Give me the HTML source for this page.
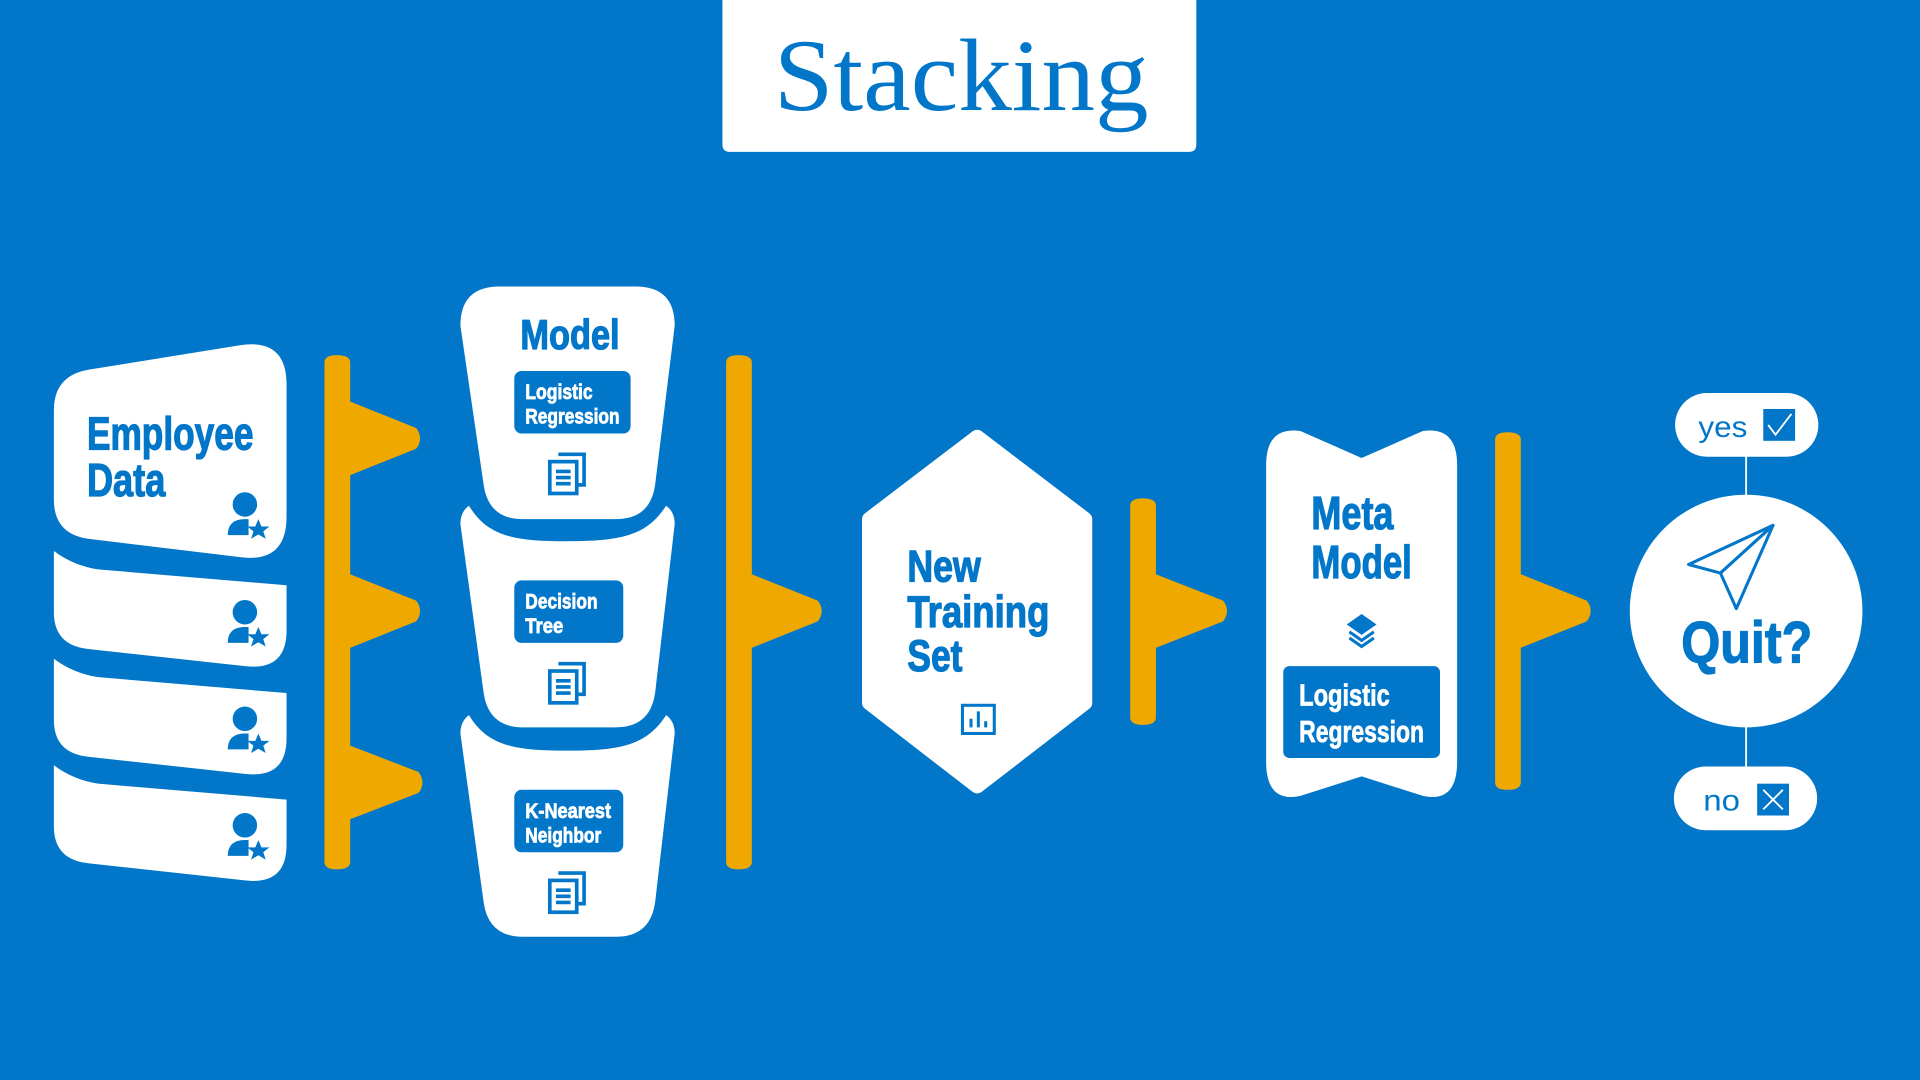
<!DOCTYPE html>
<html><head><meta charset="utf-8"><style>
html,body{margin:0;padding:0;background:#0277C9;width:1920px;height:1080px;overflow:hidden}
svg{display:block}
.c{font-family:"Liberation Sans Narrow","Liberation Sans",sans-serif;font-weight:bold}
.cb{stroke:#0277C9;stroke-width:1}
.cw{stroke:#fff;stroke-width:0.6}
</style></head><body>
<svg width="1920" height="1080" viewBox="0 0 1568 882" xmlns="http://www.w3.org/2000/svg">
<rect width="1568" height="882" fill="#0277C9"/>
<path d="M590,0 H977 V118 Q977,124 971,124 H596 Q590,124 590,118 Z" fill="#fff"/>
<text x="632" y="90" font-family="Liberation Serif,serif" font-size="84" fill="#0277C9" textLength="306" lengthAdjust="spacingAndGlyphs">Stacking</text>

<g fill="#fff">
<path d="M44,335 Q44,307 72,302 L196,282 Q234,276 234,314 V422 Q234,460 196,455 L72,440 Q44,436 44,408 Z"/>
<path d="M44,450 Q60,462 80,465 L234,478 V515 Q234,548 200,544 L72,530 Q44,527 44,500 Z"/>
<path d="M44,538 Q60,550 80,553 L234,566 V603 Q234,636 200,632 L72,618 Q44,615 44,588 Z"/>
<path d="M44,625 Q60,637 80,640 L234,653 V690 Q234,723 200,719 L72,705 Q44,702 44,675 Z"/>
</g>
<text class="c cb" x="71" y="367" font-size="38" fill="#0277C9" textLength="136" lengthAdjust="spacingAndGlyphs">Employee</text>
<text class="c cb" x="71" y="405" font-size="38" fill="#0277C9" textLength="64" lengthAdjust="spacingAndGlyphs">Data</text>
<g fill="#0277C9">
<g id="pi"><circle cx="200" cy="412" r="10"/><path d="M186,437 Q186,424 200,424 H203 V437 Z"/><polygon points="211,424 213.5,430 220,430 215,434 217,440 211,436.5 205,440 207,434 202,430 208.5,430"/></g>
<use href="#pi" y="88"/><use href="#pi" y="175"/><use href="#pi" y="262"/>
</g>

<g fill="#EFA800" stroke="#EFA800" stroke-linejoin="round" stroke-width="6">
<path d="M268,296 Q268,293 275,293 Q283,293 283,296 V330 L338,352 Q342,358 338,364 L283,386 V471 L338,493 Q342,499 338,505 L283,527 V611 L340,633 Q344,639 340,645 L283,667 V704 Q283,707 275,707 Q268,707 268,704 Z"/>
<path d="M596,296 Q596,293 603,293 Q611,293 611,296 V471 L666,493 Q670,499 666,505 L611,527 V704 Q611,707 603,707 Q596,707 596,704 Z"/>
<path d="M926,413 Q926,410 933,410 Q941,410 941,413 V471 L997,493 Q1001,499 997,505 L941,527 V586 Q941,589 933,589 Q926,589 926,586 Z"/>
<path d="M1224,359 Q1224,356 1231,356 Q1239,356 1239,359 V471 L1294,493 Q1298,499 1294,505 L1239,527 V639 Q1239,642 1231,642 Q1224,642 1224,639 Z"/>
</g>

<g fill="#fff">
<path d="M376,266 Q376,234 408,234 L519,234 Q551,234 551,266 L535,396 Q531,424 503,424 L427,424 Q399,424 395,396 Z"/>
<path d="M376,428 Q376,418 383,413 C398,438 420,442 463,442 C506,442 528,438 544,413 Q551,418 551,428 L535,566 Q531,594 503,594 L427,594 Q399,594 395,566 Z"/>
<path d="M376,599 Q376,589 383,584 C398,609 420,613 463,613 C506,613 528,609 544,584 Q551,589 551,599 L535,737 Q531,765 503,765 L427,765 Q399,765 395,737 Z"/>
</g>
<text class="c cb" x="425" y="285" font-size="34" fill="#0277C9" textLength="81" lengthAdjust="spacingAndGlyphs">Model</text>
<g fill="#0277C9">
<rect x="420" y="303" width="95" height="51" rx="6"/>
<rect x="420" y="474" width="89" height="51" rx="6"/>
<rect x="420" y="645" width="89" height="51" rx="6"/>
</g>
<g class="c cw" font-size="17" fill="#fff">
<text x="429" y="326" textLength="55" lengthAdjust="spacingAndGlyphs">Logistic</text>
<text x="429" y="346" textLength="77" lengthAdjust="spacingAndGlyphs">Regression</text>
<text x="429" y="497" textLength="59" lengthAdjust="spacingAndGlyphs">Decision</text>
<text x="429" y="517" textLength="31" lengthAdjust="spacingAndGlyphs">Tree</text>
<text x="429" y="668" textLength="70" lengthAdjust="spacingAndGlyphs">K-Nearest</text>
<text x="429" y="688" textLength="62" lengthAdjust="spacingAndGlyphs">Neighbor</text>
</g>
<g fill="none" stroke="#0277C9" stroke-width="3">
<g id="doc"><path d="M456,371 H477 V396 H472"/><rect x="449" y="377" width="22" height="26"/><path d="M454,385 H466 M454,390 H466 M454,395 H466"/></g>
<use href="#doc" y="171"/><use href="#doc" y="342"/>
</g>

<polygon points="798,357 886,424 886,574 798,642 710,574 710,424" fill="#fff" stroke="#fff" stroke-width="12" stroke-linejoin="round"/>
<g class="c cb" font-size="36" fill="#0277C9">
<text x="741" y="475" textLength="60" lengthAdjust="spacingAndGlyphs">New</text>
<text x="741" y="512" textLength="116" lengthAdjust="spacingAndGlyphs">Training</text>
<text x="741" y="548" textLength="45" lengthAdjust="spacingAndGlyphs">Set</text>
</g>
<g fill="none" stroke="#0277C9" stroke-width="2.5"><rect x="786" y="576" width="26" height="23"/><path d="M793,594 V587 M799,594 V581 M805,594 V589"/></g>

<path d="M1034,380 Q1034,348 1062,352 L1112,374 L1162,352 Q1190,348 1190,380 V622 Q1190,656 1162,650 L1112,634 L1062,650 Q1034,656 1034,622 Z" fill="#fff"/>
<text class="c cb" x="1071" y="432" font-size="38" fill="#0277C9" textLength="67" lengthAdjust="spacingAndGlyphs">Meta</text>
<text class="c cb" x="1071" y="472" font-size="38" fill="#0277C9" textLength="82" lengthAdjust="spacingAndGlyphs">Model</text>
<g fill="none" stroke="#0277C9" stroke-width="2.5"><polygon points="1112,503 1122,510 1112,517 1102,510" fill="#0277C9"/><path d="M1102,516 L1112,523 L1122,516 M1102,521 L1112,528 L1122,521"/></g>
<rect x="1048" y="544" width="128" height="75" rx="5" fill="#0277C9"/>
<text class="c cw" x="1061" y="576" font-size="25" fill="#fff" textLength="74" lengthAdjust="spacingAndGlyphs">Logistic</text>
<text class="c cw" x="1061" y="606" font-size="25" fill="#fff" textLength="102" lengthAdjust="spacingAndGlyphs">Regression</text>

<path d="M1426,372 V406 M1426,592 V627" stroke="#fff" stroke-width="1.5"/>
<circle cx="1426" cy="499" r="95" fill="#fff"/>
<path d="M1448,429 L1379,461 L1405,468 L1418,497 Z M1448,429 L1405,468" fill="none" stroke="#0277C9" stroke-width="2.5" stroke-linejoin="round"/>
<text class="c cb" x="1373" y="541" font-size="48" fill="#0277C9" textLength="107" lengthAdjust="spacingAndGlyphs">Quit?</text>
<rect x="1368" y="321" width="117" height="52" rx="26" fill="#fff"/>
<text x="1387" y="357" font-family="Liberation Sans,sans-serif" font-size="24" fill="#0277C9" textLength="40" lengthAdjust="spacingAndGlyphs">yes</text>
<rect x="1440" y="334" width="26" height="26" fill="#0277C9"/>
<path d="M1444,347 L1450,355 L1463,338" fill="none" stroke="#fff" stroke-width="1.5"/>
<rect x="1367" y="626" width="117" height="52" rx="26" fill="#fff"/>
<text x="1391" y="662" font-family="Liberation Sans,sans-serif" font-size="24" fill="#0277C9" textLength="30" lengthAdjust="spacingAndGlyphs">no</text>
<rect x="1435" y="640" width="26" height="26" fill="#0277C9"/>
<path d="M1440,645 L1456,661 M1456,645 L1440,661" stroke="#fff" stroke-width="1.5"/>
</svg>
</body></html>
